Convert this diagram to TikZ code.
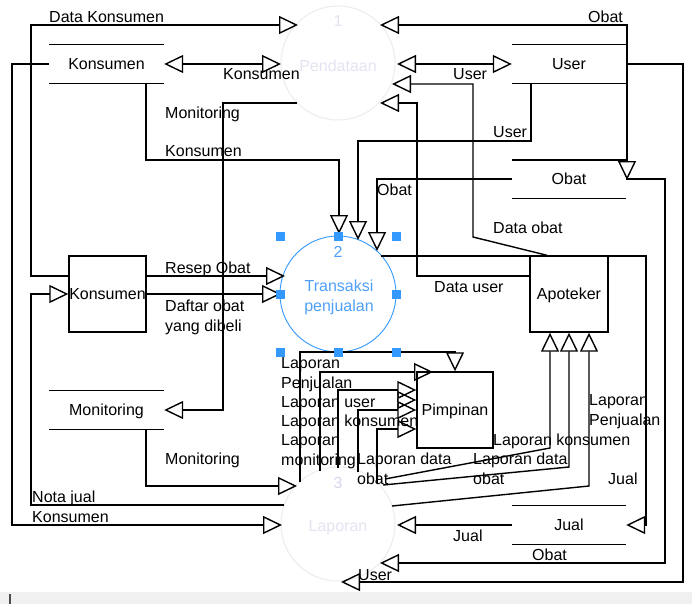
\documentclass[tikz,border=0pt]{standalone}
\usepackage{fontspec}
\setmainfont{Liberation Sans}
\usetikzlibrary{arrows.meta}
\definecolor{selblue}{RGB}{51,153,255}
\definecolor{ptext}{RGB}{80,160,248}
\definecolor{faint}{RGB}{236,236,236}
\definecolor{fainttext}{RGB}{228,228,242}
\definecolor{fainttextb}{RGB}{214,214,238}
\definecolor{barbg}{RGB}{240,240,240}
\begin{document}
\begin{tikzpicture}[x=1pt,y=-1pt,
  tri/.tip={Triangle[open,length=19pt,width=18pt,line join=miter]},
  flow/.style={draw=black,line width=1.4pt,line join=miter},
  lbl/.style={font=\fontsize{16}{20}\selectfont,inner sep=0pt,anchor=base west},
  mlbl/.style={font=\fontsize{16}{20}\selectfont,inner sep=0pt,anchor=north west,align=left},
  ctxt/.style={font=\fontsize{16}{20}\selectfont,inner sep=0pt,anchor=base},
  ent/.style={draw=black,line width=1.4pt,font=\fontsize{16}{20}\selectfont,inner sep=0pt,text height=11.5pt,text depth=0pt},
  store/.style={font=\fontsize{16}{20}\selectfont,inner sep=0pt,text height=11.5pt,text depth=0pt},
  proc/.style={circle,inner sep=0pt,minimum size=114pt},
]
\useasboundingbox (0,0) rectangle (692,604);
\fill[white] (0,0) rectangle (692,604);
\fill[barbg] (0,592) rectangle (692,604);
\draw[black!70,line width=1.5pt] (10,594) -- (10,604);

% processes
\node[proc,draw=faint,line width=1pt] (P1) at (338,63) {};
\node[proc,draw=selblue,line width=0.9pt,minimum size=116pt] (P2) at (338,294) {};
\node[proc,draw=faint,line width=1pt] (P3) at (338,524) {};
\node[ctxt,text=fainttext] (P1num) at (338,27) {1};
\node[ctxt,text=fainttext] (P1txt) at (338,72) {Pendataan};
\node[ctxt,text=ptext] (P2num) at (338,257) {2};
\node[ctxt,text=ptext,align=center] (P2txt) at (339,311) {Transaksi\\penjualan};
\node[ctxt,text=fainttextb] (P3num) at (338,488) {3};
\node[ctxt,text=fainttext] (P3txt) at (338,531) {Laporan};

% external entities
\node[ent,minimum width=77pt,minimum height=76pt] (KB) at (107.5,294) {Konsumen};
\node[ent,minimum width=78pt,minimum height=76pt] (AB) at (569,294) {Apoteker};
\node[ent,minimum width=76pt,minimum height=76pt] (PB) at (455,410) {Pimpinan};

% data stores
\node[store,minimum width=115pt,minimum height=39pt] (DSK) at (106.5,64) {Konsumen};
\node[store,minimum width=114pt,minimum height=39pt] (DSU) at (569,64) {User};
\node[store,minimum width=114pt,minimum height=38pt] (DSO) at (569,179) {Obat};
\node[store,minimum width=115pt,minimum height=39pt] (DSM) at (106.5,410) {Monitoring};
\node[store,minimum width=114pt,minimum height=39pt] (DSJ) at (569,525) {Jual};
\foreach \s in {DSK,DSU,DSO,DSM,DSJ}{
  \draw[flow] (\s.north west) -- (\s.north east) (\s.south west) -- (\s.south east);
}

% flows
\draw[flow,-tri] (KB.west |- 0,276) -| (31,25) -- (298,25);
\draw[flow,tri-tri] (DSK.east) -- (281,64);
\draw[flow,-tri] (DSK.west) -| (12,525) -- (282,525);
\draw[flow,-tri] (146,0 |- DSK.south) -- (146,160) -| (339,234);
\draw[flow,-tri] (297,103) -| (223,410) -- (DSM.east);
\draw[flow,-tri] (146,0 |- DSM.south) |- (297,486);
\draw[flow,-tri] (284,505) -| (31,294) -- (KB.west |- 0,294);
\draw[flow,-tri] (KB.east |- 0,276) -- (285,276);
\draw[flow,-tri] (KB.east |- 0,294) -- (281,294);
\draw[flow,-tri] (531,0 |- DSU.south) |- (358,141) -- (358,240);
\draw[flow,-tri] (DSO.west) -| (377,251);
\draw[flow,tri-tri] (380,25) -| (627,180);
\draw[flow,-tri] (DSO.east) -| (665,563) -- (380,563);
\draw[flow,tri-tri] (397,64) -- (DSU.west);
\draw[flow,-tri] (547,0 |- AB.north) -- (473,237) -- (473,84) -- (392,84);
\draw[flow,-tri] (AB.west |- 0,276) -| (417,103) -- (380,103);
\draw[flow,-tri] (DSU.east) -| (683,582) -- (341,582);
\draw[flow,-tri] (381,256) -| (646,525) -- (DSJ.east);
\draw[flow,-tri] (DSJ.west) -- (397,525);
\draw[flow,-tri] (300,482) |- (455,352) -- (PB.north);
\draw[flow,-tri] (320,471) |- (433,372);
\draw[flow,-tri] (338,468) |- (PB.west |- 0,390);
\draw[flow,-tri] (397,400) -- (PB.west |- 0,400);
\draw[flow,-tri] (358,472) |- (PB.west |- 0,410);
\draw[flow,-tri] (377,483) |- (PB.west |- 0,429);
\draw[flow,-tri] (385,479) -- (550,448) -- (550,0 |- AB.south);
\draw[flow,-tri] (383,485) -- (569,467) -- (569,0 |- AB.south);
\draw[flow,-tri] (392,506) -- (589,486) -- (589,0 |- AB.south);

% labels
\node[lbl] (l1) at (49,23) {Data Konsumen};
\node[lbl] (l2) at (223,80) {Konsumen};
\node[lbl] (l3) at (165,119) {Monitoring};
\node[lbl] (l4) at (165,157) {Konsumen};
\node[lbl] (l5) at (588,23) {Obat};
\node[lbl] (l6) at (453,80) {User};
\node[lbl] (l7) at (493,138) {User};
\node[lbl] (l8) at (377,195) {Obat};
\node[lbl] (l9) at (493,233) {Data obat};
\node[lbl] (l10) at (434,292) {Data user};
\node[lbl] (l11) at (165,273) {Resep Obat};
\node[mlbl] (l12) at (165,300) {Daftar obat\\yang dibeli};
\node[mlbl] (l13) at (281,357) {Laporan\\Penjualan};
\node[lbl] (l14) at (281,407) {Laporan user};
\node[lbl] (l15) at (281,426) {Laporan konsumen};
\node[mlbl] (l16) at (281,434) {Laporan\\monitoring};
\node[mlbl] (l17) at (357,453) {Laporan data\\obat};
\node[lbl] (l18) at (493,445) {Laporan konsumen};
\node[mlbl] (l19) at (473,453) {Laporan data\\obat};
\node[mlbl] (l20) at (589,394) {Laporan\\Penjualan};
\node[lbl] (l21) at (608,484) {Jual};
\node[lbl] (l22) at (165,464) {Monitoring};
\node[lbl] (l23) at (32,502) {Nota jual};
\node[lbl] (l24) at (32,522) {Konsumen};
\node[lbl] (l25) at (453,541) {Jual};
\node[lbl] (l26) at (532,560) {Obat};
\node[lbl] (l27) at (358,580) {User};

% selection handles
\foreach \hx/\hy in {280/236,338/236,396/236,280/294,396/294,280/352,338/352,396/352}{
  \fill[selblue] (\hx-4.5,\hy-4.5) rectangle (\hx+4.5,\hy+4.5);
}
\end{tikzpicture}
\end{document}
